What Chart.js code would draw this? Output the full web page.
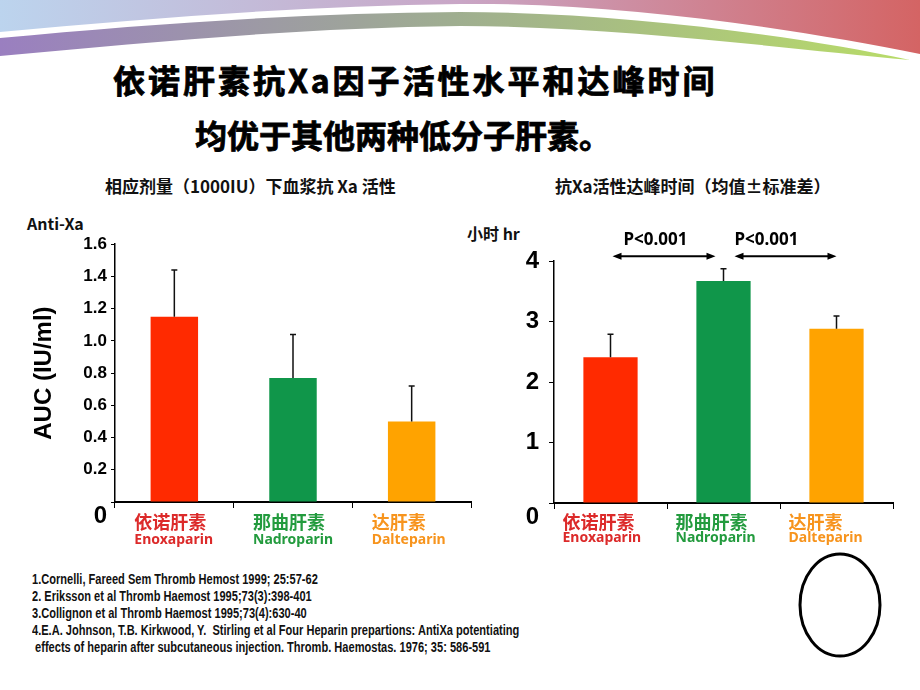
<!DOCTYPE html>
<html>
<head>
<meta charset="utf-8">
<script src="https://cdn.jsdelivr.net/npm/chart.js@4"></script>
<style>
  body { margin: 0; }
  #page { position: relative; width: 920px; height: 690px; background: #fff; overflow: hidden; font-family: "Noto Sans CJK SC", sans-serif; }
  .abs { position: absolute; white-space: pre; }
  .title { font-weight: 700; font-size: 32px; color: #000; -webkit-text-stroke: 0.8px #000; }
  .sub { font-weight: 700; font-size: 17px; color: #111; }
  .refs { left: 32px; top: 571px; font-family: "Liberation Sans", sans-serif; font-weight: 700; font-size: 14px; line-height: 17px; color: #111; transform: scaleX(0.79); transform-origin: 0 0; }
  canvas { position: absolute; }
</style>
</head>
<body>
<div id="page">
  <svg class="abs" style="left:0;top:0" width="920" height="690">
    <defs>
      <linearGradient id="bandTop" x1="0" x2="1" y1="0" y2="0">
        <stop offset="0" stop-color="#bcd4ee"/>
        <stop offset="0.5" stop-color="#c9a6c6"/>
        <stop offset="1" stop-color="#d46464"/>
      </linearGradient>
      <linearGradient id="bandLow" x1="0" x2="1" y1="0" y2="0">
        <stop offset="0" stop-color="#9a7fc0"/>
        <stop offset="0.5" stop-color="#9fae90"/>
        <stop offset="1" stop-color="#b8dc68"/>
      </linearGradient>
    </defs>
    <path d="M0,0 H920 V54 C800,30 620,2 460,4 C300,6 150,18 0,32 Z" fill="url(#bandTop)"/>
    <path d="M0,38 C150,24 300,13 460,12 C610,12 790,34 910,60 C780,48 610,26 460,26 C300,28 150,42 0,56 Z" fill="url(#bandLow)"/>
    <ellipse cx="840" cy="605" rx="40" ry="51" fill="none" stroke="#000" stroke-width="3"/>
  </svg>

  <div class="abs title" style="left:113px;top:56px;letter-spacing:3px">依诺肝素抗Xa因子活性水平和达峰时间</div>
  <div class="abs title" style="left:195px;top:111px">均优于其他两种低分子肝素。</div>

  <div class="abs sub" style="left:105px;top:173px">相应剂量（1000IU）下血浆抗 Xa 活性</div>
  <div class="abs sub" style="left:555px;top:173px">抗Xa活性达峰时间（均值±标准差）</div>
  <div class="abs sub" style="left:27px;top:211px;font-size:16px">Anti-Xa</div>
  <div class="abs sub" style="left:467px;top:221px;font-size:16px">小时 hr</div>

  <canvas id="aucChart" width="480" height="330" style="left:0;top:230px"></canvas>
  <canvas id="tmaxChart" width="440" height="340" style="left:470px;top:220px"></canvas>

  <div class="abs refs">1.Cornelli, Fareed Sem Thromb Hemost 1999; 25:57-62
2. Eriksson et al Thromb Haemost 1995;73(3):398-401
3.Collignon et al Thromb Haemost 1995;73(4):630-40
4.E.A. Johnson, T.B. Kirkwood, Y.  Stirling et al Four Heparin prepartions: AntiXa potentiating
 effects of heparin after subcutaneous injection. Thromb. Haemostas. 1976; 35: 586-591</div>
</div>

<script>
// 数据
const categories = ["依诺肝素", "那曲肝素", "达肝素"];
const categoriesEn = ["Enoxaparin", "Nadroparin", "Dalteparin"];
const aucMeans = [1.15, 0.77, 0.5];
const aucErrors = [0.29, 0.27, 0.22];
const tmaxMeans = [2.41, 3.67, 2.88];
const tmaxErrors = [0.38, 0.2, 0.21];
const pLabels = ["P<0.001", "P<0.001"];
const pPairs = [[0, 1], [1, 2]];

const barColors = ["#ff2a00", "#10964a", "#ffa300"];
const labelColors = ["#dc2a2a", "#239b3e", "#f7941d"];
const numFont = "Liberation Sans";

// 误差线（只画上半部分）
const errorBars = {
    id: "errorBars",
    afterDatasetsDraw(chart, args, opts) {
        const ctx = chart.ctx;
        const y = chart.scales.y;
        const values = chart.data.datasets[0].data;
        ctx.save();
        ctx.strokeStyle = "#111";
        ctx.lineWidth = 1.5;
        chart.getDatasetMeta(0).data.forEach(function (bar, i) {
            const top = y.getPixelForValue(values[i] + opts.errors[i]);
            ctx.beginPath();
            ctx.moveTo(bar.x, bar.y);
            ctx.lineTo(bar.x, top);
            ctx.moveTo(bar.x - 3, top);
            ctx.lineTo(bar.x + 3, top);
            ctx.stroke();
        });
        ctx.restore();
    },
};

// 两行的分类标签
const catLabels = {
    id: "catLabels",
    afterDraw(chart, args, opts) {
        const ctx = chart.ctx;
        const x = chart.scales.x;
        const bottom = chart.chartArea.bottom;
        ctx.save();
        ctx.textAlign = "left";
        ctx.textBaseline = "middle";
        categories.forEach(function (name, i) {
            const px = x.getPixelForValue(i) + opts.shift;
            ctx.fillStyle = labelColors[i];
            ctx.font = 'bold 18px "Noto Sans CJK SC"';
            ctx.fillText(name, px, bottom + opts.dy1);
            ctx.font = 'bold 14px "Noto Sans"';
            ctx.fillText(categoriesEn[i], px, bottom + opts.dy2);
        });
        ctx.restore();
    },
};

// 显著性箭头
const pArrows = {
    id: "pArrows",
    afterDraw(chart, args, opts) {
        const ctx = chart.ctx;
        const x = chart.scales.x;
        const yy = chart.scales.y.getPixelForValue(opts.level);
        ctx.save();
        ctx.strokeStyle = "#000";
        ctx.fillStyle = "#000";
        ctx.lineWidth = 2;
        pPairs.forEach(function (pair, k) {
            const x1 = x.getPixelForValue(pair[0]) + opts.inset[k][0];
            const x2 = x.getPixelForValue(pair[1]) - opts.inset[k][1];
            ctx.beginPath();
            ctx.moveTo(x1 + 4, yy);
            ctx.lineTo(x2 - 4, yy);
            ctx.stroke();
            ctx.beginPath();
            ctx.moveTo(x1, yy);
            ctx.lineTo(x1 + 9, yy - 3.5);
            ctx.lineTo(x1 + 9, yy + 3.5);
            ctx.closePath();
            ctx.moveTo(x2, yy);
            ctx.lineTo(x2 - 9, yy - 3.5);
            ctx.lineTo(x2 - 9, yy + 3.5);
            ctx.closePath();
            ctx.fill();
            ctx.font = 'bold 17px "Noto Sans"';
            ctx.textAlign = "left";
            ctx.textBaseline = "middle";
            ctx.fillText(pLabels[k], x1 + opts.textShift[k], yy - 16);
        });
        ctx.restore();
    },
};

function barChart(id, cfg) {
    return new Chart(document.getElementById(id), {
        type: "bar",
        data: {
            labels: categories,
            datasets: [
                {
                    data: cfg.values,
                    backgroundColor: barColors,
                    barPercentage: cfg.barPct,
                    categoryPercentage: 1,
                },
            ],
        },
        options: {
            responsive: false,
            animation: false,
            layout: { padding: cfg.padding },
            plugins: {
                legend: { display: false },
                tooltip: { enabled: false },
                errorBars: { errors: cfg.errors },
                catLabels: cfg.labels,
                pArrows: cfg.arrows || false,
            },
            scales: {
                x: {
                    afterFit: function (s) { s.height = cfg.xHeight; },
                    border: { color: "#000", width: 2 },
                    grid: { offset: true, drawOnChartArea: false, color: "#000", tickLength: 6 },
                    ticks: { display: false },
                },
                y: {
                    min: 0,
                    max: cfg.max,
                    afterFit: function (s) { s.width = cfg.yWidth; },
                    border: { color: "#000", width: 1.5 },
                    grid: { drawOnChartArea: false, color: "#000", tickLength: cfg.tickLen },
                    ticks: {
                        stepSize: cfg.step,
                        autoSkip: false,
                        color: "#000",
                        padding: cfg.tickPad,
                        font: function (c) {
                            const zero = c.tick && c.tick.value === 0;
                            return { family: numFont, weight: "bold", size: zero ? 24 : cfg.tickSize };
                        },
                        callback: function (v) {
                            return v === 0 ? ["", "0"] : cfg.fmt(v);
                        },
                    },
                    title: cfg.yTitle,
                },
            },
        },
        plugins: [errorBars, catLabels, pArrows],
    });
}

barChart("aucChart", {
    values: aucMeans,
    errors: aucErrors,
    max: 1.6,
    step: 0.2,
    fmt: function (v) { return v.toFixed(1); },
    barPct: 0.4,
    padding: { top: 13, right: 9, left: 0, bottom: 0 },
    xHeight: 58,
    yWidth: 115,
    tickLen: 4,
    tickPad: 4,
    tickSize: 17,
    labels: { shift: -40, dy1: 20, dy2: 38 },
    yTitle: {
        display: true,
        text: "AUC (IU/ml)",
        color: "#000",
        font: { family: numFont, size: 24, weight: "bold" },
        padding: { top: 30, bottom: 0 },
    },
});

barChart("tmaxChart", {
    values: tmaxMeans,
    errors: tmaxErrors,
    max: 4,
    step: 1,
    fmt: function (v) { return String(v); },
    barPct: 0.48,
    padding: { top: 41, right: 17, left: 0, bottom: 0 },
    xHeight: 57,
    yWidth: 84,
    tickLen: 5,
    tickPad: 10,
    tickSize: 24,
    labels: { shift: -48, dy1: 19, dy2: 35 },
    arrows: { level: 4.08, inset: [[2, 8], [11, 0]], textShift: [11, 0] },
    yTitle: { display: false },
});
</script>
</body>
</html>
